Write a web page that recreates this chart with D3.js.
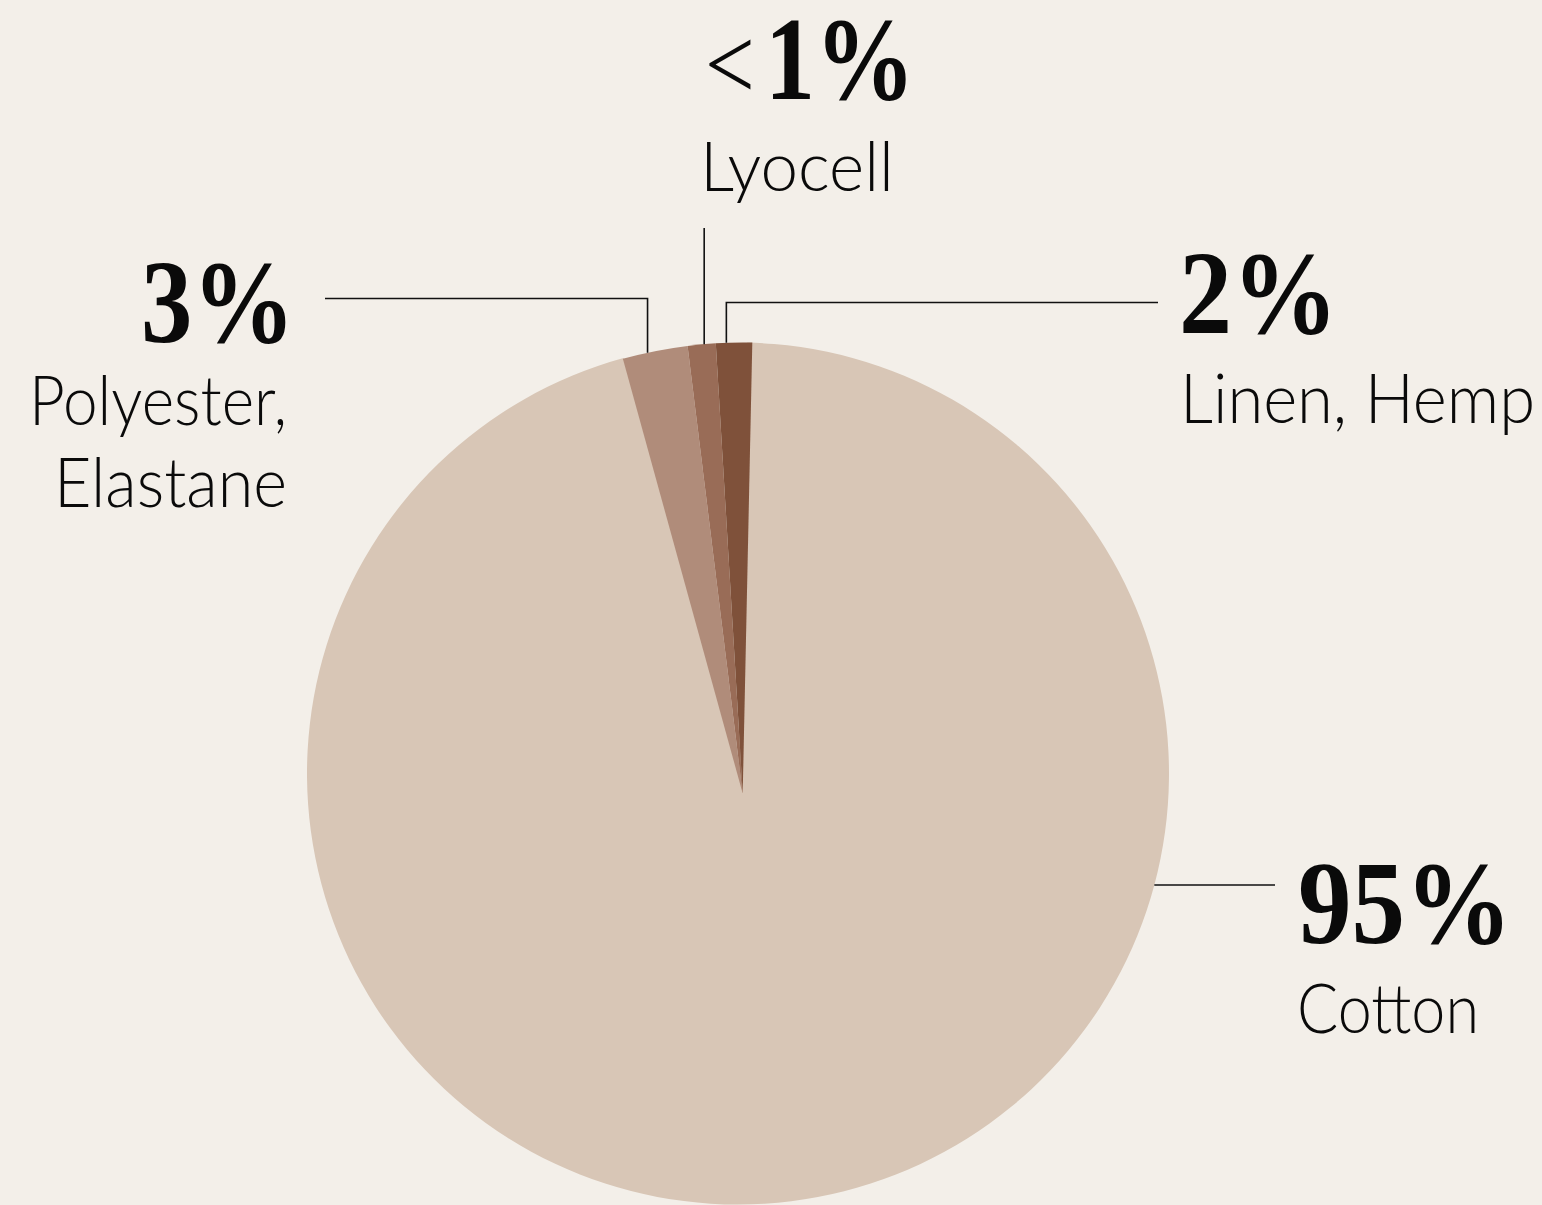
<!DOCTYPE html>
<html>
<head>
<meta charset="utf-8">
<script src="https://cdn.jsdelivr.net/npm/d3@7"></script>
<style>
  html, body { margin: 0; padding: 0; background: #f3efe9; }
  svg { display: block; }
</style>
</head>
<body>
<svg id="chart" width="1542" height="1205"></svg>
<script>
// ---- data ----
const categories = ["Cotton", "Polyester, Elastane", "Lyocell", "Linen, Hemp"];
const shares = [95.4, 2.33, 1.0, 1.29];
const pctLabels = ["95%", "3%", "<1%", "2%"];
const nameLines = [["Cotton"], ["Polyester,", "Elastane"], ["Lyocell"], ["Linen, Hemp"]];

// ---- styles ----
const colors = ["#d8c6b6", "#b08c7a", "#996c57", "#7f513a"];
const bg = "#f3efe9";

const W = 1542, H = 1205;
const svg = d3.select("#chart");
svg.append("rect").attr("width", W).attr("height", H).attr("fill", bg);

const deg = Math.PI / 180;
const startA = 1.22 * deg;
const pie = d3.pie().sort(null).value(d => d).startAngle(startA).endAngle(startA + 2 * Math.PI);
const arcs = pie(shares);

// main disc (cotton) and the small wedges drawn from a slightly lower apex
const C = { x: 738, y: 773.5, r: 431 };
const A = { x: 742.7, y: 793.5, r: 451 };
const arcMain = d3.arc().innerRadius(0).outerRadius(C.r);
const arcSmall = d3.arc().innerRadius(0).outerRadius(A.r);

const gMain = svg.append("g").attr("transform", `translate(${C.x},${C.y})`);
gMain.append("path").attr("d", arcMain(arcs[0])).attr("fill", colors[0]);

const gSmall = svg.append("g").attr("transform", `translate(${A.x},${A.y})`);
gSmall.selectAll("path").data(arcs.slice(1)).join("path")
  .attr("d", d => arcSmall(d))
  .attr("fill", (d, i) => colors[i + 1]);

function edgePoint(center, r, a) {
  return [center.x + r * Math.sin(a), center.y - r * Math.cos(a)];
}

// ---- label layout ----
const layout = [
  { // Cotton
    anchor: "start", pctX: 1298, pctY: 943, pctW: 214, nameX: 1297, nameY: 1033, nameW: [182],
    leader: () => { const p = edgePoint(C, C.r, 105 * deg); return [p, [1275, p[1]]]; }
  },
  { // Polyester
    anchor: "end", pctX: 295, pctY: 342, pctW: 154, nameX: 287, nameY: 425, nameW: [258, 233],
    leader: d => { const p = edgePoint(A, A.r, d.startAngle + 0.385 * (d.endAngle - d.startAngle)); return [p, [p[0], 298.5], [325, 298.5]]; }
  },
  { // Lyocell
    anchor: "start", pctX: 705, pctY: 99, pctW: 210, nameX: 700, nameY: 191, nameW: [194],
    leader: d => { const p = edgePoint(A, A.r, d.startAngle + 0.59 * (d.endAngle - d.startAngle)); return [p, [p[0], 228]]; }
  },
  { // Linen
    anchor: "start", pctX: 1179, pctY: 333, pctW: 159, nameX: 1180, nameY: 423, nameW: [355],
    leader: d => { const p = edgePoint(A, A.r, d.startAngle + 0.29 * (d.endAngle - d.startAngle)); return [p, [p[0], 302.5], [1158, 302.5]]; }
  }
];

const line = d3.line();
arcs.forEach((d, i) => {
  const L = layout[i];
  svg.append("path").attr("d", line(L.leader(d)))
    .attr("fill", "none").attr("stroke", "#111").attr("stroke-width", 1.6);

  const label = pctLabels[i];
  const t = svg.append("text")
    .attr("x", L.pctX).attr("y", L.pctY)
    .attr("text-anchor", L.anchor)
    .attr("font-family", "'Liberation Serif', serif")
    .attr("font-size", 118)
    .attr("fill", "#0a0a0a")
    .attr("textLength", L.pctW)
    .attr("lengthAdjust", "spacingAndGlyphs");
  if (label.startsWith("<")) {
    t.append("tspan").attr("font-weight", 300).attr("font-size", 104).text("<");
    t.append("tspan").attr("font-weight", 700).attr("dx", 12).text(label.slice(1));
  } else {
    t.append("tspan").attr("font-weight", 700).text(label);
  }

  nameLines[i].forEach((s, k) => {
    svg.append("text")
      .attr("x", L.nameX).attr("y", L.nameY + k * 82)
      .attr("text-anchor", L.anchor)
      .attr("font-family", "Lato, sans-serif")
      .attr("font-weight", 300)
      .attr("font-size", 68)
      .attr("fill", "#0a0a0a")
      .attr("textLength", L.nameW[k])
      .attr("lengthAdjust", "spacingAndGlyphs")
      .text(s);
  });
});
</script>
</body>
</html>
